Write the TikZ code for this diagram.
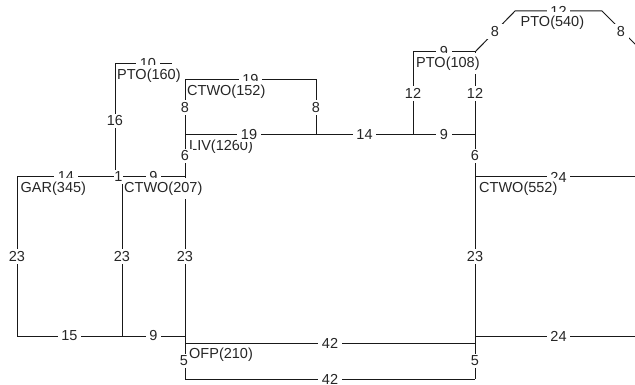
\documentclass[tikz,border=0pt]{standalone}
\usepackage{fontspec}
\setmainfont{Liberation Sans}
\begin{document}
\begin{tikzpicture}[x=1pt,y=-1pt,
  wall/.style={line width=1pt, draw=black!90},
  dim/.style={fill=white, inner xsep=3.5pt, inner ysep=2pt, text=black!85,
    font=\fontsize{14.5}{16}\selectfont},
  room/.style={fill=white, inner xsep=1pt, inner ysep=4pt, anchor=base west,
    text=black!85, font=\fontsize{14.5}{16}\selectfont}]
\useasboundingbox (0,0) rectangle (635,385);
\clip (0,0) rectangle (635,385);
% grid coordinates
\coordinate (A5) at (17,177);  \coordinate (A6) at (17,336);
\coordinate (B2) at (115,64);  \coordinate (B5) at (115,177); \coordinate (B2e) at (172,64);
\coordinate (C5) at (122,177); \coordinate (C6) at (122,336);
\coordinate (D3) at (185,80);  \coordinate (D4) at (185,135); \coordinate (D5) at (185,177);
\coordinate (D6) at (185,336); \coordinate (D7) at (185,343); \coordinate (D8) at (185,379);
\coordinate (E3) at (316,80);  \coordinate (E4) at (316,135);
\coordinate (F1) at (413,52);  \coordinate (F4) at (413,135);
\coordinate (G1) at (475,52);  \coordinate (G4) at (475,135); \coordinate (G5) at (475,177);
\coordinate (G6) at (475,336); \coordinate (G7) at (475,343); \coordinate (G8) at (475,379);
\coordinate (P1) at (515,11);  \coordinate (P2) at (602,11);
\coordinate (H1) at (643,52);  \coordinate (H5) at (643,177); \coordinate (H6) at (643,336);
% walls
\draw[wall] (A5) -- (D5);
\draw[wall] (A5) -- (A6) -- (D6);
\draw[wall] (B5) -- (B2) -- (B2e);
\draw[wall] (C5) -- (C6);
\draw[wall] (D3) -- (D8);
\draw[wall] (D3) -- (E3) -- (E4);
\draw[wall] (D4) -- (G4);
\draw[wall] (F4) -- (F1) -- (G1);
\draw[wall] (G1) -- (G8);
\draw[wall] (G1) -- (P1) -- (P2) -- (H1) -- (H6);
\draw[wall] (G5) -- (H5);
\draw[wall] (G6) -- (H6);
\draw[wall] (D7) -- (G7);
\draw[wall] (D8) -- (G8);
% room drawn beneath later dimension labels
\node[room, inner ysep=1.5pt] (liv) at (188,150.4) {LIV(1260)};
% dimension labels
\node[dim] (d1) at (66,177) {14};
\node[dim, inner xsep=0.5pt] (d2) at (118.5,177) {1};
\node[dim] (d3) at (153.5,177) {9};
\node[dim] (d4) at (17,256.5) {23};
\node[dim] (d5) at (69.5,336) {15};
\node[dim] (d6) at (153.5,336) {9};
\node[dim] (d7) at (122,256.5) {23};
\node[dim] (d8) at (115,121) {16};
\node[dim] (d9) at (148,64) {10};
\node[dim] (d10) at (185,107.5) {8};
\node[dim] (d11) at (250.5,80) {19};
\node[dim] (d12) at (316,107.5) {8};
\node[dim] (d13) at (185,156) {6};
\node[dim] (d14) at (185,256.5) {23};
\node[dim] (d15) at (249,135) {19};
\node[dim] (d16) at (364.5,135) {14};
\node[dim] (d17) at (444,135) {9};
\node[dim] (d18) at (413,93.5) {12};
\node[dim] (d19) at (444,52) {9};
\node[dim] (d20) at (475,93.5) {12};
\node[dim] (d21) at (475,156) {6};
\node[dim] (d22) at (475,256.5) {23};
\node[dim] (d23) at (184,361) {5};
\node[dim] (d24) at (475,361) {5};
\node[dim] (d25) at (330,343) {42};
\node[dim] (d26) at (330,379) {42};
\node[dim] (d27) at (495,31.5) {8};
\node[dim] (d28) at (558.5,11) {12};
\node[dim] (d29) at (621,31.5) {8};
\node[dim] (d30) at (558.5,177) {24};
\node[dim] (d31) at (558.5,336) {24};
\node[dim] (d32) at (643,114.5) {18};
\node[dim] (d33) at (643,256.5) {23};
% room names
\node[room] (pto160) at (116,79.4) {PTO(160)};
\node[room] (ctwo152) at (186,95.4) {CTWO(152)};
\node[room] (gar) at (19.5,192.4) {GAR(345)};
\node[room] (ctwo207) at (123,192.4) {CTWO(207)};
\node[room] (pto108) at (415,67.4) {PTO(108)};
\node[room] (pto540) at (519.5,26.4) {PTO(540)};
\node[room] (ctwo552) at (478,192.4) {CTWO(552)};
\node[room] (ofp) at (188,358.4) {OFP(210)};
\end{tikzpicture}
\end{document}
